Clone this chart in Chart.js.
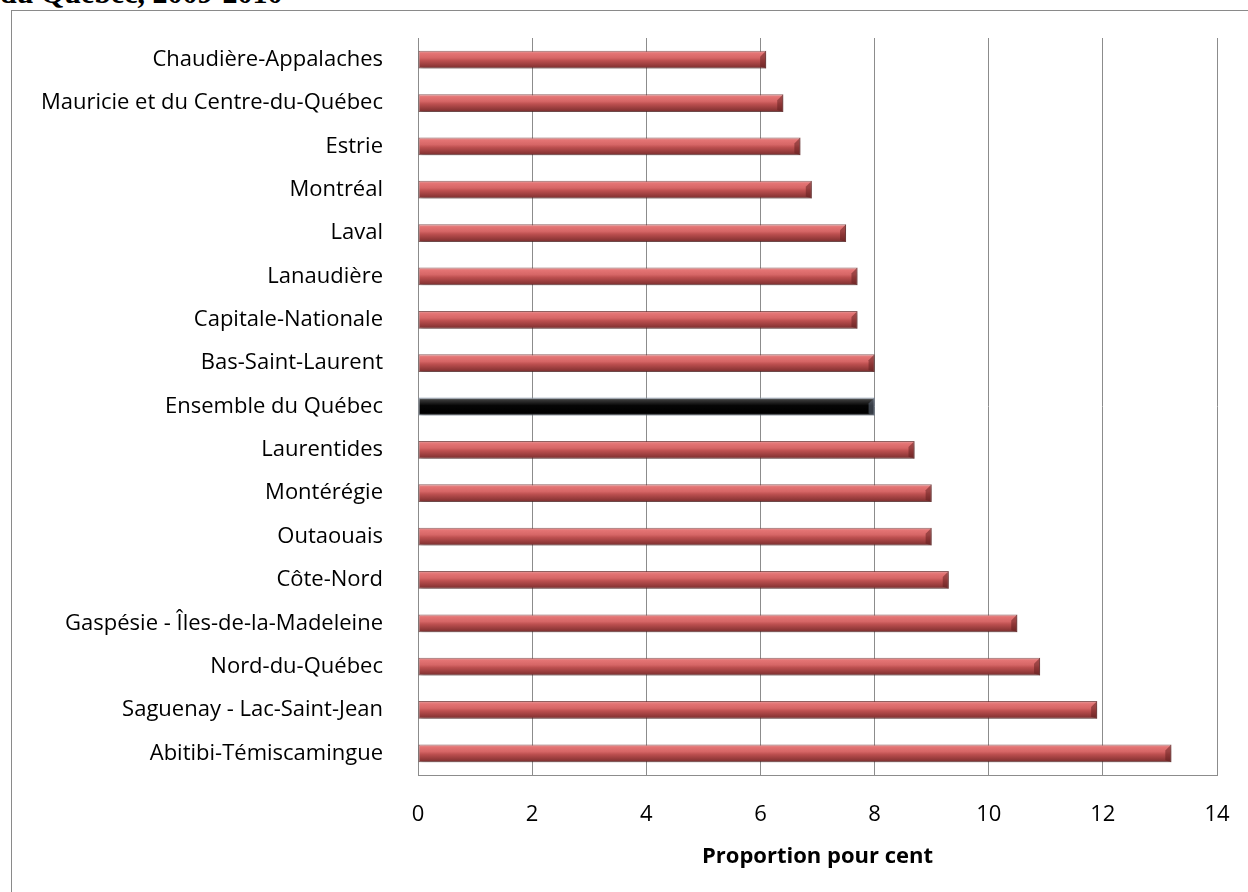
<!DOCTYPE html>
<html>
<head>
<meta charset="utf-8">
<script src="https://cdn.jsdelivr.net/npm/chart.js@4"></script>
<style>
  html, body { margin: 0; padding: 0; background: #fff; }
  body { width: 1248px; height: 892px; position: relative; overflow: hidden; }
  .doc-title {
    position: absolute; left: 0; top: -22px;
    font: bold 30px "Liberation Serif", "DejaVu Serif", serif;
    line-height: 30px; color: #000; white-space: nowrap;
  }
  .frame {
    position: absolute; left: 11px; top: 10px; width: 1300px; height: 950px;
    border: 1px solid #8a8a8a; box-sizing: border-box;
  }
  .chart-wrap { position: absolute; left: 0; top: 0; width: 1248px; height: 892px; }
</style>
</head>
<body>
<div class="doc-title">du Québec, 2009-2010</div>
<div class="frame"></div>
<div class="chart-wrap"><canvas id="chart"></canvas></div>
<script>
// Regions, top to bottom
const regions = [
  'Chaudière-Appalaches',
  'Mauricie et du Centre-du-Québec',
  'Estrie',
  'Montréal',
  'Laval',
  'Lanaudière',
  'Capitale-Nationale',
  'Bas-Saint-Laurent',
  'Ensemble du Québec',
  'Laurentides',
  'Montérégie',
  'Outaouais',
  'Côte-Nord',
  'Gaspésie - Îles-de-la-Madeleine',
  'Nord-du-Québec',
  'Saguenay - Lac-Saint-Jean',
  'Abitibi-Témiscamingue'
];

// Proportion pour cent
const proportions = [6.1, 6.4, 6.7, 6.9, 7.5, 7.7, 7.7, 8.0, 8.0, 8.7, 9.0, 9.0, 9.3, 10.5, 10.9, 11.9, 13.2];

const xTicks = [0, 2, 4, 6, 8, 10, 12, 14];
const highlighted = 'Ensemble du Québec';

const BAR_PCT = 0.41;

function barFill(c) {
  const isTotal = regions[c.dataIndex] === highlighted;
  const flat = isTotal ? '#000' : '#c0504d';
  if (c.type !== 'data') return flat;
  const yScale = c.chart.scales.y;
  if (!yScale || !yScale.height) return flat;
  const yc = yScale.getPixelForValue(c.dataIndex);
  const h = (yScale.height / regions.length) * BAR_PCT;
  const g = c.chart.ctx.createLinearGradient(0, yc - h / 2, 0, yc + h / 2);
  if (isTotal) {
    g.addColorStop(0, '#b9c3cf');
    g.addColorStop(0.12, '#3a3a3a');
    g.addColorStop(0.45, '#050505');
    g.addColorStop(0.85, '#000');
    g.addColorStop(1, '#2a2a2a');
  } else {
    g.addColorStop(0, '#e4a0a0');
    g.addColorStop(0.15, '#e47474');
    g.addColorStop(0.4, '#d66666');
    g.addColorStop(0.55, '#bd5050');
    g.addColorStop(0.8, '#983c3c');
    g.addColorStop(1, '#782e2e');
  }
  return g;
}

// soft drop shadow under the bars + bevelled right ends
const barShadow = {
  id: 'barShadow',
  beforeDatasetDraw(chart) {
    const ctx = chart.ctx;
    ctx.save();
    ctx.shadowColor = 'rgba(0,0,0,0.28)';
    ctx.shadowBlur = 4;
    ctx.shadowOffsetX = 1;
    ctx.shadowOffsetY = 3;
  },
  afterDatasetDraw(chart) {
    const ctx = chart.ctx;
    ctx.restore();
    chart.getDatasetMeta(0).data.forEach((bar, i) => {
      const top = bar.y - bar.height / 2;
      const bot = bar.y + bar.height / 2;
      const b = 6;
      ctx.save();
      ctx.fillStyle = regions[i] === highlighted ? 'rgba(90,100,115,0.6)' : 'rgba(95,30,30,0.5)';
      ctx.beginPath();
      ctx.moveTo(bar.x - b, top + b);
      ctx.lineTo(bar.x, top);
      ctx.lineTo(bar.x, bot);
      ctx.lineTo(bar.x - b, bot - 2);
      ctx.closePath();
      ctx.fill();
      ctx.restore();
    });
  }
};

Chart.defaults.font.family = '"Open Sans", "DejaVu Sans", sans-serif';
Chart.defaults.color = '#000';

new Chart(document.getElementById('chart'), {
  type: 'bar',
  data: {
    labels: regions,
    datasets: [{
      data: proportions,
      backgroundColor: barFill,
      borderColor: regions.map(r => r === highlighted ? '#8c9bb0' : 'rgba(110,45,45,0.75)'),
      borderWidth: 1,
      borderSkipped: false,
      barPercentage: BAR_PCT,
      categoryPercentage: 1
    }]
  },
  plugins: [barShadow],
  options: {
    indexAxis: 'y',
    responsive: true,
    maintainAspectRatio: false,
    animation: false,
    layout: { padding: { left: 0, top: 38, right: 31, bottom: 0 } },
    plugins: {
      legend: { display: false },
      tooltip: { enabled: false }
    },
    scales: {
      x: {
        min: 0,
        max: 14,
        afterBuildTicks: s => { s.ticks = xTicks.map(v => ({ value: v })); },
        afterFit: s => {
          s.height = 117;
          s.paddingLeft = 0;
          s.paddingRight = 0;
        },
        grid: { color: '#8c8c8c', lineWidth: 1, drawTicks: false },
        border: { display: true, color: '#8c8c8c' },
        ticks: { padding: 27, font: { size: 22 }, color: '#000' },
        title: {
          display: true,
          text: 'Proportion pour cent',
          font: { size: 22, weight: 'bold' },
          color: '#000',
          padding: { top: 0, bottom: 22 }
        }
      },
      y: {
        afterFit: s => {
          s.width = 418;
          s.paddingTop = 0;
          s.paddingBottom = 0;
        },
        grid: { display: false, drawTicks: false },
        border: { display: true, color: '#8c8c8c' },
        ticks: { padding: 35, font: { size: 22 }, color: '#000', autoSkip: false }
      }
    }
  }
});
</script>
</body>
</html>
